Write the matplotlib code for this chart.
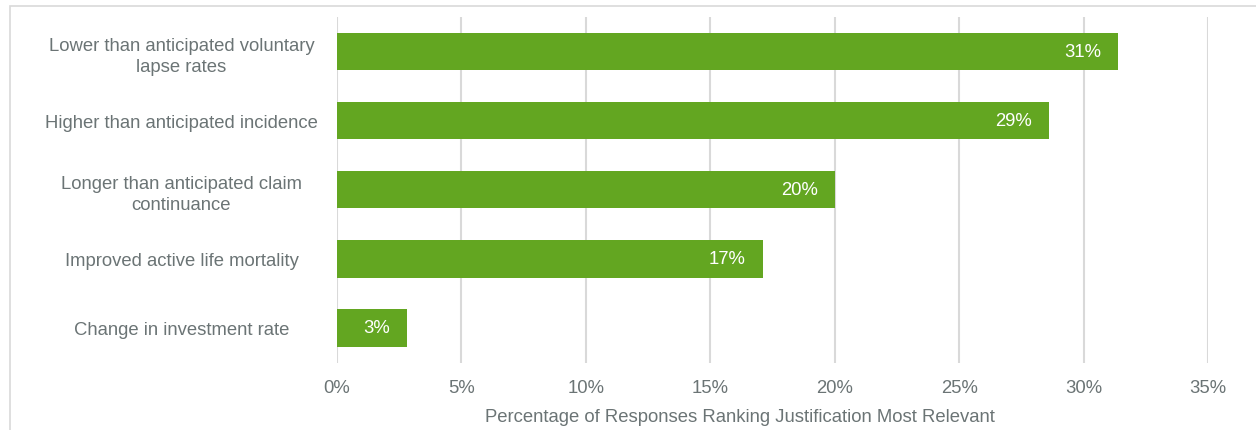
import matplotlib
matplotlib.use("Agg")
import matplotlib.pyplot as plt
from matplotlib.patches import Rectangle
from matplotlib.ticker import FuncFormatter, MultipleLocator

plt.rcParams['font.family'] = ['Liberation Sans', 'DejaVu Sans']

categories = [
    "Lower than anticipated voluntary\nlapse rates",
    "Higher than anticipated incidence",
    "Longer than anticipated claim\ncontinuance",
    "Improved active life mortality",
    "Change in investment rate",
]
values = [31.4, 28.6, 20.0, 17.1, 2.8]
value_labels = ["31%", "29%", "20%", "17%", "3%"]
x_label = "Percentage of Responses Ranking Justification Most Relevant"

bar_color = "#63a621"
text_color = "#6b7475"
grid_color = "#d9d9d9"
fs = 13.3

fig = plt.figure(figsize=(12.56, 4.31), dpi=100)
fig.patches.append(Rectangle((10 / 1256, -0.1), 1.2, 1 - 7 / 431 + 0.1,
                             transform=fig.transFigure, fill=False,
                             edgecolor="#d9d9d9", linewidth=1.2))
ax = fig.add_axes([337 / 1256, 1 - 363.5 / 431, (1208 - 337) / 1256, (363.5 - 18) / 431])

y = list(range(len(categories)))
bars = ax.barh(y, values, height=0.54, color=bar_color, zorder=3)
for b, lab in zip(bars, value_labels):
    ax.annotate(lab, (b.get_width(), b.get_y() + b.get_height() / 2),
                xytext=(-17, 0), textcoords="offset pixels",
                ha="right", va="center", color="white", fontsize=fs, zorder=4)

ax.set_xlim(0, 35)
ax.set_ylim(len(categories) - 0.5, -0.5)
ax.set_yticks(y)
ax.set_yticklabels(categories, ha="center", multialignment="center", linespacing=1.35)
ax.tick_params(axis="y", length=0, pad=112, labelcolor=text_color, labelsize=fs)
ax.xaxis.set_major_locator(MultipleLocator(5))
ax.xaxis.set_major_formatter(FuncFormatter(lambda v, p: f"{v:.0f}%"))
ax.tick_params(axis="x", length=0, pad=12, labelcolor=text_color, labelsize=fs)
ax.grid(axis="x", color=grid_color, linewidth=1.5, zorder=0)
for s in ax.spines.values():
    s.set_visible(False)
ax.set_xlabel(x_label, color=text_color, fontsize=fs)
ax.xaxis.set_label_coords(0.4627, -0.155)
ax.xaxis.label.set_va("center")

fig.savefig("out.png", dpi=100)
